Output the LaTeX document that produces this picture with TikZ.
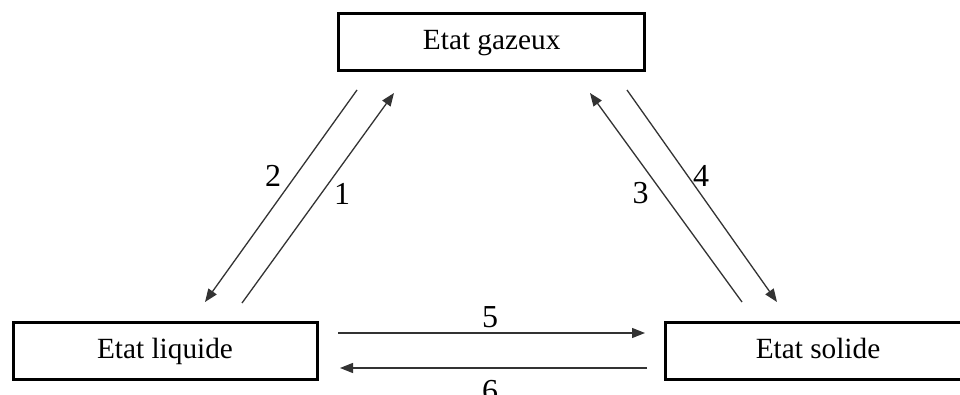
\documentclass[tikz,border=0pt]{standalone}
\usepackage{fontspec}
\setmainfont{Liberation Serif}
\usetikzlibrary{arrows.meta}
\begin{document}
\begin{tikzpicture}[x=1pt,y=-1pt,
  statebox/.style={draw=black, line width=3pt, fill=white, inner sep=0pt,
    text height=19pt, text depth=4.6pt,
    minimum width=306pt, minimum height=57pt, font=\fontsize{29.3}{31}\selectfont},
  conn/.style={draw=black!80, line width=1.3pt, -{Triangle[length=13pt,width=10pt]}},
  num/.style={inner sep=0pt, font=\fontsize{32}{34}\selectfont}]
\useasboundingbox (0,0) rectangle (960,394);
\clip (0,0) rectangle (960,394);
\fill[white] (0,0) rectangle (960,394);
\node[statebox] (gaz) at (491.7,42) {Etat gazeux};
\node[statebox, minimum width=304pt] (liq) at (165,351.3) {Etat liquide};
\node[statebox] (sol) at (818,351.3) {Etat solide};
% arrow ends
\coordinate (a2s) at (357,90);  \coordinate (a2e) at (205,302);
\coordinate (a1s) at (242,303); \coordinate (a1e) at (394,93);
\coordinate (a3s) at (742,302); \coordinate (a3e) at (590,93);
\coordinate (a4s) at (627,90);  \coordinate (a4e) at (777,302);
\coordinate (a5s) at (338,333); \coordinate (a5e) at (645,333);
\coordinate (a6s) at (647,368); \coordinate (a6e) at (340,368);
\draw[conn] (a2s) -- (a2e);
\draw[conn] (a1s) -- (a1e);
\draw[conn] (a3s) -- (a3e);
\draw[conn] (a4s) -- (a4e);
\draw[conn] (a5s) -- (a5e);
\draw[conn] (a6s) -- (a6e);
\node[num] (n2) at (273,176) {2};
\node[num] (n1) at (342,194) {1};
\node[num] (n3) at (640.5,193) {3};
\node[num] (n4) at (701,175.5) {4};
\node[num] (n5) at (490,317) {5};
\node[num] (n6) at (490,391) {6};
\end{tikzpicture}
\end{document}
